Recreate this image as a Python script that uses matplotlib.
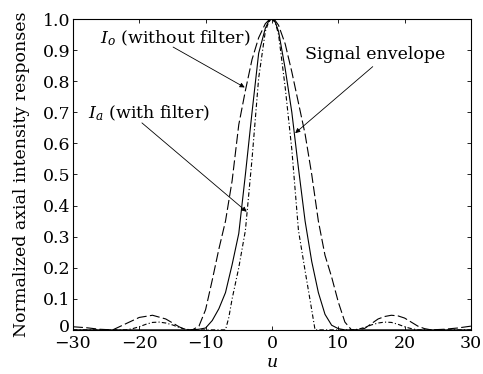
import numpy as np
import matplotlib as mpl
mpl.use("Agg")
import matplotlib.pyplot as plt
from matplotlib.transforms import ScaledTranslation

rc_fonts = {
    "font.family": "serif",
    "font.serif": ["DejaVu Serif"],
    "mathtext.fontset": "dejavuserif",
    "font.size": 12.5,
    "axes.linewidth": 0.8,
    "xtick.direction": "in",
    "ytick.direction": "in",
    "xtick.top": True,
    "ytick.right": True,
}
mpl.rcParams.update(rc_fonts)

# I_o (without filter), dashed
u_o = [-30, -28, -26, -24, -22, -20, -18, -16, -14, -13, -12, -11, -10, -9, -8,
       -7, -6, -5, -4, -3, -2, -1, -0.5, 0, 0.5, 1, 2, 3, 4, 5, 6, 7, 8, 9,
       10, 11, 12, 13, 14, 15, 16, 17, 18, 19, 20, 21, 22, 23, 24, 26, 28, 30]
i_o = [0.010, 0.007, 0.002, 0.0, 0.020, 0.040, 0.047, 0.035, 0.010, 0.0, 0.0,
       0.012, 0.065, 0.16, 0.26, 0.35, 0.48, 0.66, 0.77, 0.87, 0.94, 0.985,
       0.996, 1.0, 0.995, 0.98, 0.92, 0.83, 0.73, 0.63, 0.50, 0.35, 0.24,
       0.17, 0.09, 0.025, 0.0, 0.0, 0.005, 0.020, 0.035, 0.043, 0.047, 0.045,
       0.038, 0.025, 0.012, 0.004, 0.0, 0.002, 0.006, 0.012]

# I_a (with filter), solid
u_a = [-30, -20, -12, -11, -10, -9, -8, -7, -6, -5, -4, -3, -2, -1, -0.5, 0,
       0.5, 1, 2, 3, 4, 5, 6, 7, 8, 9, 10, 11, 12, 20, 30]
i_a = [0.0, 0.0, 0.0, 0.002, 0.006, 0.03, 0.068, 0.12, 0.21, 0.31, 0.50,
       0.70, 0.89, 0.97, 0.993, 1.0, 0.99, 0.96, 0.84, 0.70, 0.52, 0.35,
       0.22, 0.12, 0.05, 0.015, 0.004, 0.0, 0.0, 0.0, 0.0]

# signal envelope, dash-dot
u_s = [-30, -22, -21, -20, -19, -18, -17, -16, -15, -14, -13, -12, -7,
       -6.5, -6, -5, -4, -3, -2, -1, -0.5, 0, 0.5, 1, 2, 3, 4, 5, 6, 6.5,
       12, 13, 14, 15, 16, 17, 18, 19, 20, 21, 22, 30]
i_s = [0.0, 0.0, 0.004, 0.010, 0.018, 0.024, 0.025, 0.022, 0.016, 0.008,
       0.002, 0.0, 0.0, 0.04, 0.10, 0.20, 0.32, 0.55, 0.81, 0.96, 0.99, 1.0,
       0.99, 0.95, 0.78, 0.58, 0.32, 0.19, 0.064, 0.0, 0.0, 0.002, 0.008,
       0.016, 0.022, 0.025, 0.024, 0.018, 0.010, 0.004, 0.0, 0.0]

x_ticks = [-30, -20, -10, 0, 10, 20, 30]
y_ticks = np.arange(0, 1.01, 0.1)
y_tick_labels = ["0", "0.1", "0.2", "0.3", "0.4", "0.5", "0.6", "0.7",
                 "0.8", "0.9", "1.0"]

figure = plt.figure(figsize=(4.83, 3.74), dpi=100)
axes = figure.add_axes([0.151, 0.118, 0.824, 0.831])

axes.plot(u_o, i_o, color="black", lw=0.8, linestyle=(0, (9, 3)))
axes.plot(u_a, i_a, color="black", lw=0.8, linestyle="-")
axes.plot(u_s, i_s, color="black", lw=0.8, linestyle=(0, (4, 2, 1, 2)))

axes.set_xlim(-30, 30)
axes.set_ylim(0, 1.0)
axes.set_xticks(x_ticks)
axes.set_yticks(y_ticks)
axes.set_yticklabels(y_tick_labels)
axes.tick_params(length=3, width=0.6, pad=2)
axes.tick_params(axis="x", pad=4)
axes.set_xlabel(r"$u$", labelpad=1)
axes.set_ylabel("Normalized axial intensity responses", labelpad=9)

# nudge the "0" label up a little so it clears "-30"
zero_label = axes.get_yticklabels()[0]
zero_label.set_transform(zero_label.get_transform() +
                         ScaledTranslation(0, 3 / 72, figure.dpi_scale_trans))

arrow = dict(arrowstyle="-|>", color="black", lw=0.6,
             mutation_scale=7, shrinkA=0, shrinkB=0)

axes.text(-25.9, 0.939, r"$I_o$ (without filter)", ha="left", va="center")
axes.annotate("", xy=(-4.1, 0.78), xytext=(-14.9, 0.91), arrowprops=arrow)

axes.text(-27.7, 0.698, r"$I_a$ (with filter)", ha="left", va="center")
axes.annotate("", xy=(-3.8, 0.38), xytext=(-19.6, 0.666), arrowprops=arrow)

axes.text(5.0, 0.887, "Signal envelope", ha="left", va="center")
axes.annotate("", xy=(3.5, 0.633), xytext=(15.2, 0.847), arrowprops=arrow)

plt.savefig("out.png", dpi=100)
